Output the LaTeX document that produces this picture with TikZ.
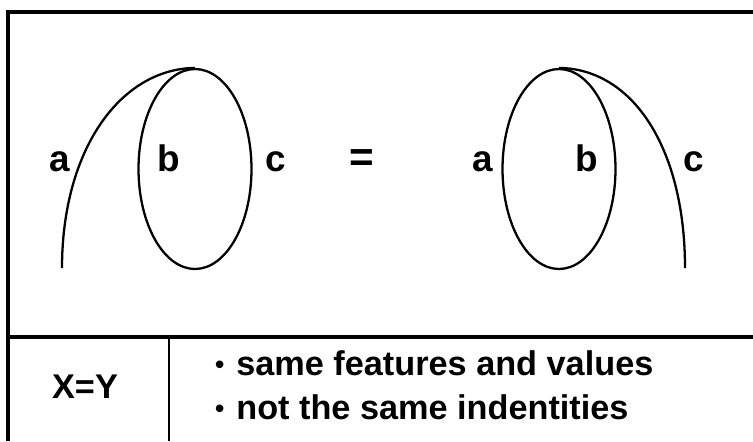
\documentclass[tikz,border=0pt]{standalone}
\usepackage{fontspec}
\setmainfont{Liberation Sans}
\usetikzlibrary{shapes.geometric}
\newcommand{\smallbullet}{\raisebox{1pt}{\fontsize{15}{15}\selectfont•}\hspace{0.35em}}
\begin{document}
\begin{tikzpicture}[x=0.02cm, y=-0.02cm, line width=1.3pt,
		lbl/.style={font=\fontsize{21}{24}\selectfont\bfseries, inner sep=0pt, anchor=base},
		txt/.style={font=\fontsize{19.5}{22}\selectfont\bfseries, inner sep=0pt, anchor=base west},
		oval/.style={draw, ellipse, inner sep=0pt, minimum width=2.26cm, minimum height=4cm}]
		\useasboundingbox (0,0) rectangle (753,441);
		
		% 框线
		\draw[line width=1.8pt] (8,441) -- (8,12) -- (753,12);
		\draw[line width=1.8pt] (8,337) -- (753,337);
		\draw[line width=1.6pt] (169,337) -- (169,441);
		
		% 左图
		\node[oval] (ell1) at (195,169) {};
		\coordinate (aend) at (62,268);
		\draw (ell1.north) .. controls (120,69) and (62,150) .. (aend);
		\node[lbl] (la) at (60,171) {a};
		\node[lbl] (lb) at (169,171) {b};
		\node[lbl] (lc) at (276,171) {c};
		
		\node[lbl, font=\fontsize{24}{24}\selectfont\bfseries] (eq) at (362,171) {=};
		
		% 右图
		\node[oval] (ell2) at (559,169) {};
		\coordinate (cend) at (685,268);
		\draw (ell2.north) .. controls (634,69) and (685,150) .. (cend);
		\node[lbl] (ra) at (483,171) {a};
		\node[lbl] (rb) at (587,171) {b};
		\node[lbl] (rc) at (694,171) {c};
		
		% 说明
		\node[lbl, font=\fontsize{19.5}{22}\selectfont\bfseries] (xy) at (85,398) {X=Y};
		\node[txt] (s1) at (214,375) {\smallbullet same features and values};
		\node[txt] (s2) at (214,419) {\smallbullet not the same indentities};
	\end{tikzpicture}
\end{document}
